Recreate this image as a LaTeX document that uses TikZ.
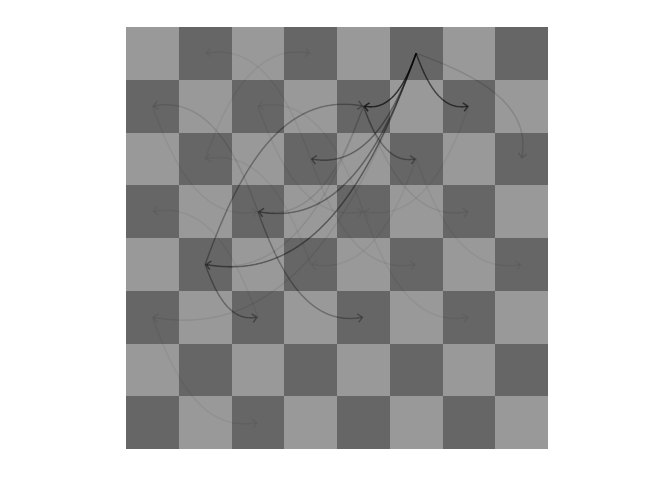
\documentclass[tikz,border=0pt]{standalone}
\usetikzlibrary{arrows.meta}
\definecolor{lightsq}{HTML}{999999}
\definecolor{darksq}{HTML}{666666}
\tikzset{
  move/.style={
    -{Straight Barb[length=2.4pt,width=4.6pt]},
    line width=0.75pt, draw=black, draw opacity=#1
  },
  move/.default=0.1,
  % late bending curves (leave near the chord, arrive turned)
  arcl/.style={out=25, in=125, relative},
  arcr/.style={out=-25, in=-125, relative},
}
\begin{document}
\begin{tikzpicture}

\useasboundingbox (-2.389,-0.588) rectangle (10.35,8.512);

% board squares and their centres
\foreach \f [count=\c from 0] in {a,b,c,d,e,f,g,h} {
  \foreach \rk in {1,...,8} {
    \pgfmathtruncatemacro\parity{\c+\rk}
    \ifodd\parity \def\sqcol{darksq}\else \def\sqcol{lightsq}\fi
    \fill[\sqcol] (\c,\rk-1) rectangle ++(1,1);
    \coordinate (\f\rk) at (\c+0.5,\rk-0.5);
  }
}

% faint moves
\draw[move=0.05] (d6) to[arcr] (b8);
\draw[move=0.05] (b6) to[arcl] (d8);
\draw[move=0.06] (c7) to[arcr] (e5);
\draw[move=0.05] (e5) to[arcr] (c7);
\draw[move=0.06] (d6) to[arcr] (f4);
\draw[move=0.05] (f6) to[arcr] (h4);
\draw[move=0.05] (f6) to[arcl] (d4);
\draw[move=0.05] (e5) to[arcr] (g3);
\draw[move=0.05] (c3) to[arcr] (a5);
\draw[move=0.05] (d4) to[arcr] (b6);
\draw[move=0.05] (a3) to[arcr] (c1);
\draw[move=0.05] (g7) to[arcl] (e5);
\draw[move=0.05] (a7) to[arcr] (c5);
\draw[move=0.07] (e7) to[arcr] (g5);
\draw[move=0.10] (c5) to[arcr] (a7);
\draw[move=0.10] (e7) to[arcl] (c5);
\draw[move=0.08] (e7) to[arcl] (b4);
\draw[move=0.07] (f8) to[arcl] (a3);
\draw[move=0.12] (f8) to[arcl] (h6);

% second moves
\draw[move=0.30] (b4) to[arcl] (e7);
\draw[move=0.28] (c5) to[arcr] (e3);
\draw[move=0.32] (b4) to[arcr] (c3);
\draw[move=0.32] (e7) to[arcr] (f6);

% bishop on f8
\draw[move=0.35] (f8) to[arcl] (d6);
\draw[move=0.35] (f8) to[arcl] (c5);
\draw[move=0.40] (f8) to[arcl] (b4);
\draw[move=0.55] (f8) to[arcr] (g7);
\draw[move=0.65] (f8) to[arcl] (e7);

\end{tikzpicture}
\end{document}
